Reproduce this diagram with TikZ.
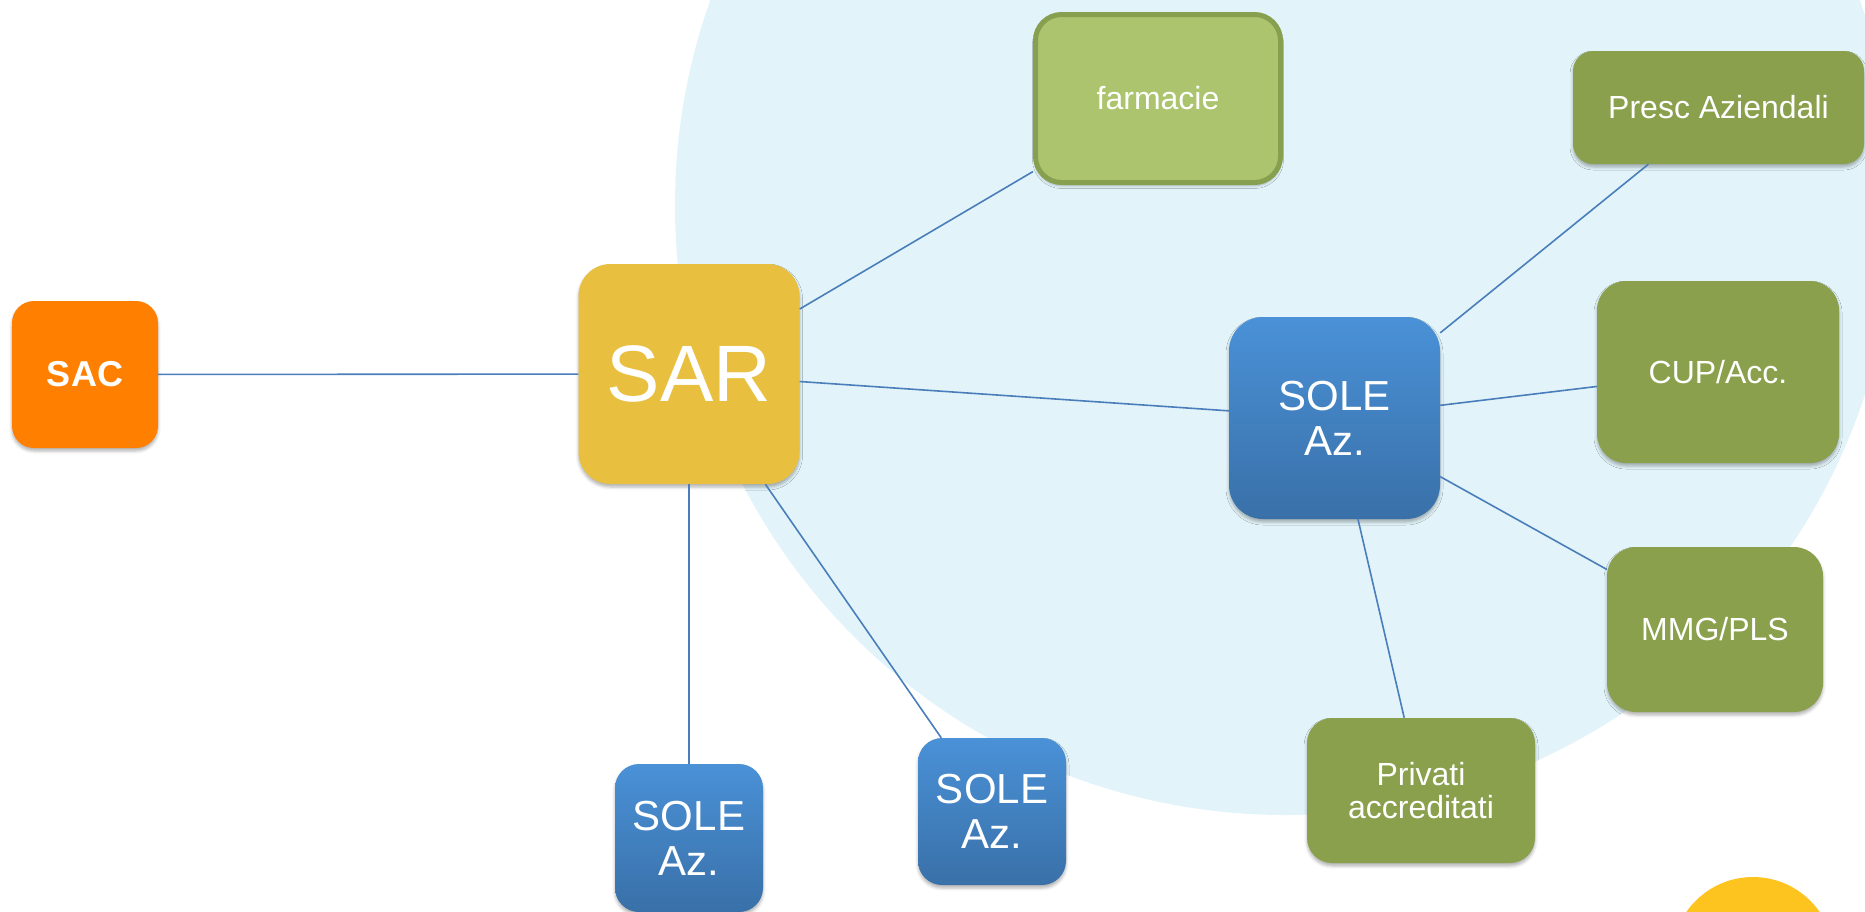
\documentclass[tikz,border=0pt]{standalone}
\usepackage{fontspec}
\setmainfont{Liberation Sans}
\usetikzlibrary{shadows.blur}
\definecolor{bgblue}{HTML}{E2F4F9}
\definecolor{sunyellow}{HTML}{FDC41F}
\definecolor{sacorange}{HTML}{FF7F00}
\definecolor{saryellow}{HTML}{E8BF3F}
\definecolor{farmfill}{HTML}{ABC46D}
\definecolor{farmborder}{HTML}{86A04F}
\definecolor{olivegreen}{HTML}{8AA04C}
\definecolor{soletop}{HTML}{4A91D7}
\definecolor{solebottom}{HTML}{3970A8}
\definecolor{linec}{HTML}{4A7EBB}
\begin{document}
\begin{tikzpicture}[x=1pt,y=-1pt,
  box/.style={inner sep=0pt, text=white, align=center,
    blur shadow={shadow xshift=0pt, shadow yshift=-3pt, shadow blur radius=3pt, shadow opacity=30}},
  greenbox/.style={box, fill=olivegreen, font=\fontsize{32}{33}\selectfont},
  solebox/.style={box, top color=soletop, bottom color=solebottom, font=\fontsize{42}{45}\selectfont},
  conn/.style={draw=linec, line width=1.6pt}]
\useasboundingbox (0,0) rectangle (1865,911);
\clip (0,0) rectangle (1865,911);
\fill[bgblue] (1285,205) circle[radius=610];
\fill[sunyellow] (1753,958) circle[radius=81];

\node[box, fill=sacorange, rounded corners=22pt, minimum width=146pt, minimum height=147pt,
  font=\bfseries\fontsize{36}{38}\selectfont] (sac) at (85,374.5) {SAC};
\node[box, fill=saryellow, rounded corners=32pt, minimum width=221pt, minimum height=220pt,
  font=\fontsize{80}{84}\selectfont] (sar) at (689,374) {SAR};
\node[box, fill=farmfill, draw=farmborder, line width=5pt, rounded corners=26pt,
  minimum width=245pt, minimum height=168pt, font=\fontsize{32}{33}\selectfont] (farm) at (1158,98.5) {farmacie};
\node[solebox, rounded corners=34pt, minimum width=211pt, minimum height=202pt] (sole) at (1334.5,418) {SOLE\\Az.};
\node[solebox, rounded corners=24pt, minimum width=148pt, minimum height=148pt] (soleA) at (689,838) {SOLE\\Az.};
\node[solebox, rounded corners=24pt, minimum width=148pt, minimum height=147pt] (soleB) at (992,811.5) {SOLE\\Az.};
\node[greenbox, rounded corners=20pt, minimum width=291pt, minimum height=113pt] (presc) at (1718.5,107.5) {Presc Aziendali};
\node[greenbox, rounded corners=29pt, minimum width=242pt, minimum height=182pt] (cup) at (1718,372) {CUP/Acc.};
\node[greenbox, rounded corners=29pt, minimum width=216pt, minimum height=165pt] (mmg) at (1715,629.5) {MMG/PLS};
\node[greenbox, rounded corners=25pt, minimum width=228pt, minimum height=145pt] (priv) at (1421,790.5) {Privati\\accreditati};

\draw[conn] (sac) -- (sar);
\draw[conn] (sar) -- (farm);
\draw[conn] (sar) -- (sole);
\draw[conn] (sar) -- (soleA);
\draw[conn] (sar) -- (soleB);
\draw[conn] (sole) -- (presc);
\draw[conn] (sole) -- (cup);
\draw[conn] (sole) -- (mmg);
\draw[conn] (sole) -- (priv);
\end{tikzpicture}
\end{document}
